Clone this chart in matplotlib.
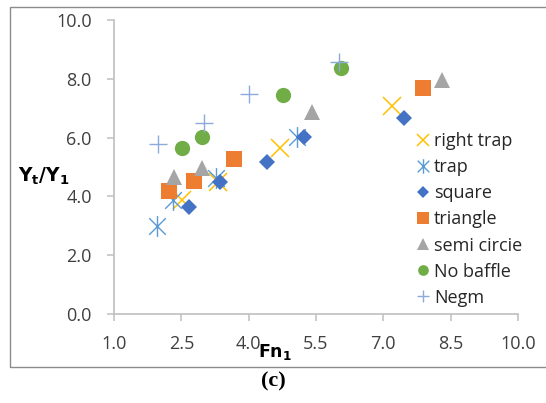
import numpy as np
import matplotlib
matplotlib.use("Agg")
import matplotlib.pyplot as plt
from matplotlib.path import Path
from matplotlib.patches import Rectangle

plt.rcParams['font.family'] = ['Open Sans', 'DejaVu Sans']

# data
right_trap_x = [2.51, 3.32, 4.70, 7.20]
right_trap_y = [3.88, 4.50, 5.63, 7.07]
trap_x = [1.95, 2.32, 3.28, 5.07]
trap_y = [3.00, 3.88, 4.61, 6.01]
square_x = [2.67, 3.36, 4.40, 5.24, 7.47]
square_y = [3.65, 4.48, 5.18, 6.03, 6.68]
triangle_x = [2.22, 2.79, 3.67, 7.89]
triangle_y = [4.19, 4.52, 5.28, 7.70]
semi_x = [2.34, 2.95, 5.40, 8.31]
semi_y = [4.67, 4.98, 6.88, 7.96]
nobaffle_x = [2.51, 2.97, 4.77, 6.05]
nobaffle_y = [5.66, 6.03, 7.45, 8.38]
negm_x = [1.99, 3.01, 4.01, 6.02]
negm_y = [5.78, 6.51, 7.47, 8.56]

xticks = [1.0, 2.5, 4.0, 5.5, 7.0, 8.5, 10.0]
yticks = [0.0, 2.0, 4.0, 6.0, 8.0, 10.0]

# excel-style asterisk: x plus vertical bar
star = Path([(-1, -1), (1, 1), (-1, 1), (1, -1), (0, -1.25), (0, 1.25)],
            [Path.MOVETO, Path.LINETO, Path.MOVETO, Path.LINETO, Path.MOVETO, Path.LINETO])

fig = plt.figure(figsize=(5.46, 4.03), dpi=100)
ax = fig.add_axes([114/546, 1-314/403, 404/546, 294/403])

ax.plot(right_trap_x, right_trap_y, 'x', color='#FFC000', ms=13, mew=1.1, label='right trap')
ax.plot(trap_x, trap_y, ls='none', marker=star, color='#5B9BD5', ms=15, mew=1.0, label='trap')
ax.plot(square_x, square_y, 'D', color='#4472C4', ms=8.5, mew=0, label='square')
ax.plot(triangle_x, triangle_y, 's', color='#ED7D31', ms=12, mew=0, label='triangle')
ax.plot(semi_x, semi_y, '^', color='#A5A5A5', ms=12, mew=0, label='semi circie')
ax.plot(nobaffle_x, nobaffle_y, 'o', color='#70AD47', ms=11, mew=0, label='No baffle')
ax.plot(negm_x, negm_y, '+', color='#8EA9DB', ms=13, mew=1.0, label='Negm')

ax.set_xlim(1.0, 10.0)
ax.set_ylim(0.0, 10.0)
ax.set_xticks(xticks)
ax.set_yticks(yticks)
ax.set_xticklabels(['%.1f' % v for v in xticks])
ax.set_yticklabels(['%.1f' % v for v in yticks])
ax.tick_params(length=5, width=1.1, color='#BFBFBF', labelsize=13, labelcolor='#404040')
ax.tick_params(axis='y', pad=11)
ax.tick_params(axis='x', pad=10)
for s in ['top', 'right']:
    ax.spines[s].set_visible(False)
for s in ['left', 'bottom']:
    ax.spines[s].set_color('#BFBFBF')
    ax.spines[s].set_linewidth(1.2)

leg = ax.legend(loc='upper left', bbox_to_anchor=(407/546, 1-123/403), bbox_transform=fig.transFigure,
                frameon=False, fontsize=13, markerscale=0.7, handlelength=0.8,
                handletextpad=0.2, labelspacing=0.45, borderpad=0)
for t in leg.get_texts():
    t.set_color('#262626')

fig.text(44/546, 1-176/403, r'$\mathbf{Y_t/Y_1}$', fontsize=13.5, ha='center', va='center')
fig.text(275/546, 1-352/403, r'$\mathbf{Fn_1}$', fontsize=12.5, ha='center', va='center')
fig.text(273/546, 1-381/403, '(c)', fontsize=16, fontweight='bold', family='Liberation Serif',
         ha='center', va='center')

fig.patches.append(Rectangle((10/546, 1-367/403), 600/546, 360/403, transform=fig.transFigure,
                             fill=False, edgecolor='#8C8C8C', lw=1.0, figure=fig))

fig.savefig('out.png', dpi=100)
